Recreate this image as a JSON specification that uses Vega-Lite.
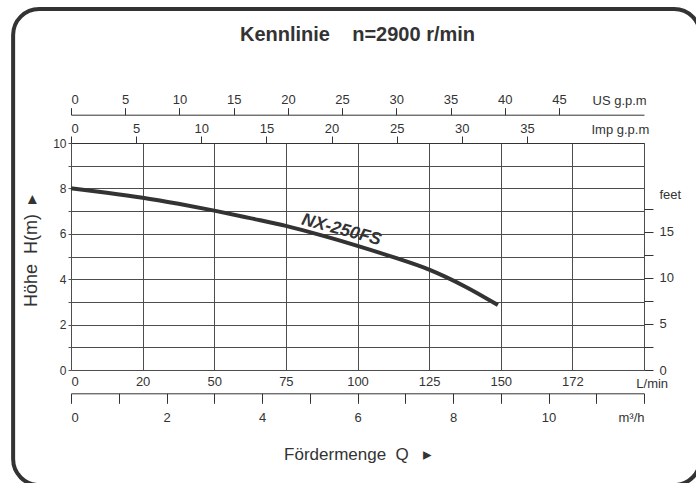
{
  "$schema": "https://vega.github.io/schema/vega-lite/v6.json",
  "width": 573,
  "height": 227,
  "autosize": {"type": "none"},
  "padding": {"left": 71, "top": 143, "right": 52, "bottom": 113},
  "background": "#ffffff",
  "title": {"text": "Kennlinie\u00a0\u00a0\u00a0\u00a0n=2900 r/min", "fontSize": 20, "fontWeight": "bold", "color": "#333333", "anchor": "middle", "frame": "group", "offset": -38},
  "datasets": {
    "curve": [
      {"lpm": 0, "m": 8.0},
      {"lpm": 12.5, "m": 7.81},
      {"lpm": 25, "m": 7.59},
      {"lpm": 37.5, "m": 7.32},
      {"lpm": 50, "m": 7.02},
      {"lpm": 62.5, "m": 6.69},
      {"lpm": 75, "m": 6.35},
      {"lpm": 87.5, "m": 5.93},
      {"lpm": 100, "m": 5.47},
      {"lpm": 112.5, "m": 4.97},
      {"lpm": 125, "m": 4.42},
      {"lpm": 137.5, "m": 3.68},
      {"lpm": 149, "m": 2.86}
    ],
    "label": [{"lpm": 94.4, "m": 6.17, "name": "NX-250FS"}],
    "axes": [{"usgpm": 0, "impgpm": 0, "m3h": 0, "ft": 0}]
  },
  "layer": [
    {
      "data": {"values": [{}]},
      "mark": {"type": "rect", "fill": null, "stroke": "#333333", "strokeWidth": 4, "cornerRadius": 26},
      "encoding": {
        "x": {"datum": -20.2, "type": "quantitative", "scale": {"domain": [0, 200]}, "axis": null},
        "x2": {"datum": 219.6},
        "y": {"datum": -5.07, "type": "quantitative", "scale": {"domain": [0, 10]}, "axis": null},
        "y2": {"datum": 15.9}
      }
    },
    {
      "data": {"name": "curve"},
      "mark": {"type": "line", "color": "#333333", "strokeWidth": 4, "interpolate": "monotone"},
      "encoding": {
        "x": {
          "field": "lpm", "type": "quantitative", "scale": {"domain": [0, 200]},
          "axis": {
            "orient": "bottom", "values": [0, 25, 50, 75, 100, 125, 150, 175, 200],
            "labelExpr": "datum.value == 25 ? '20' : datum.value == 175 ? '172' : datum.value == 200 ? '' : datum.label",
            "grid": true, "gridColor": "#4d4d4d", "gridWidth": 1, "tickSize": 0, "domain": false,
            "labelPadding": 5, "labelFontSize": 13, "labelColor": "#333333",
            "title": "L/min", "titleAngle": 0, "titleX": 580.7, "titleY": 13.5, "titleAlign": "center", "titleBaseline": "middle",
            "titleFontSize": 13, "titleFontWeight": "normal", "titleColor": "#333333"
          }
        },
        "y": {
          "field": "m", "type": "quantitative", "scale": {"domain": [0, 10]},
          "axis": {
            "values": [0, 1, 2, 3, 4, 5, 6, 7, 8, 9, 10],
            "labelExpr": "datum.value % 2 == 0 ? datum.label : ''",
            "grid": true, "gridColor": "#4d4d4d", "gridWidth": 1, "tickSize": 3, "tickColor": "#555555", "domain": false,
            "labelPadding": 2, "labelFontSize": 12, "labelColor": "#333333",
            "title": "Höhe\u00a0\u00a0H(m)\u00a0\u00a0▸", "titleFontSize": 18, "titleFontWeight": "normal", "titleColor": "#333333",
            "titleY": 107.5, "titlePadding": 12
          }
        }
      }
    },
    {
      "data": {"name": "label"},
      "mark": {"type": "text", "angle": 15, "fontSize": 17.5, "fontWeight": "bold", "fontStyle": "italic", "color": "#333333"},
      "encoding": {
        "x": {"field": "lpm", "type": "quantitative", "scale": {"domain": [0, 200]}, "axis": null},
        "y": {"field": "m", "type": "quantitative", "scale": {"domain": [0, 10]}, "axis": null},
        "text": {"field": "name"}
      }
    },
    {
      "data": {"name": "axes"},
      "mark": {"type": "point", "opacity": 0},
      "encoding": {
        "x": {
          "field": "usgpm", "type": "quantitative", "scale": {"domain": [0, 52.84]},
          "axis": {
            "orient": "top", "offset": 28.3, "values": [0, 5, 10, 15, 20, 25, 30, 35, 40, 45],
            "tickSize": 7, "tickColor": "#333333", "domain": true, "domainColor": "#333333", "grid": false,
            "labelPadding": 1, "labelFontSize": 13, "labelColor": "#333333",
            "title": "US g.p.m", "titleAngle": 0, "titleX": 521, "titleY": -14.3, "titleAlign": "left", "titleBaseline": "middle",
            "titleFontSize": 13, "titleFontWeight": "normal", "titleColor": "#333333"
          }
        }
      }
    },
    {
      "data": {"name": "axes"},
      "mark": {"type": "point", "opacity": 0},
      "encoding": {
        "x": {
          "field": "impgpm", "type": "quantitative", "scale": {"domain": [0, 43.99]},
          "axis": {
            "orient": "top", "offset": 0, "values": [0, 5, 10, 15, 20, 25, 30, 35],
            "tickSize": 7, "tickColor": "#333333", "domain": true, "domainColor": "#333333", "grid": false,
            "labelPadding": 1, "labelFontSize": 13, "labelColor": "#333333",
            "title": "Imp g.p.m", "titleAngle": 0, "titleX": 520, "titleY": -14, "titleAlign": "left", "titleBaseline": "middle",
            "titleFontSize": 13, "titleFontWeight": "normal", "titleColor": "#333333"
          }
        }
      }
    },
    {
      "data": {"name": "axes"},
      "mark": {"type": "point", "opacity": 0},
      "encoding": {
        "x": {
          "field": "m3h", "type": "quantitative", "scale": {"domain": [0, 12]},
          "axis": {
            "orient": "bottom", "offset": 23.3, "values": [0, 1, 2, 3, 4, 5, 6, 7, 8, 9, 10, 11, 12],
            "labelExpr": "datum.value == 12 ? 'm³/h' : datum.value % 2 == 0 ? datum.label : ''",
            "tickSize": 10, "tickColor": "#333333", "domain": true, "domainColor": "#333333", "grid": false,
            "labelPadding": 8, "labelFontSize": 13, "labelColor": "#333333",
            "title": "Fördermenge\u00a0\u00a0Q\u00a0\u00a0\u00a0▸", "titleFontSize": 17, "titleFontWeight": "normal", "titleColor": "#333333",
            "titlePadding": 22
          }
        }
      }
    },
    {
      "data": {"name": "axes"},
      "mark": {"type": "point", "opacity": 0},
      "encoding": {
        "y": {
          "field": "ft", "type": "quantitative", "scale": {"domain": [0, 24.62]},
          "axis": {
            "orient": "right", "values": [0, 2.5, 5, 7.5, 10, 12.5, 15, 17.5],
            "labelExpr": "datum.value % 5 == 0 ? datum.label : ''",
            "tickSize": 9, "tickColor": "#333333", "domain": false, "grid": false,
            "labelPadding": 6, "labelFontSize": 13, "labelColor": "#333333",
            "title": "feet", "titleAngle": 0, "titleX": 15, "titleY": 51, "titleAlign": "left", "titleBaseline": "middle",
            "titleFontSize": 13, "titleFontWeight": "normal", "titleColor": "#333333"
          }
        }
      }
    }
  ],
  "resolve": {"scale": {"x": "independent", "y": "independent"}, "axis": {"x": "independent", "y": "independent"}},
  "config": {
    "font": "Liberation Sans",
    "view": {"stroke": null},
    "axis": {"labelFont": "Liberation Sans", "titleFont": "Liberation Sans"}
  }
}
